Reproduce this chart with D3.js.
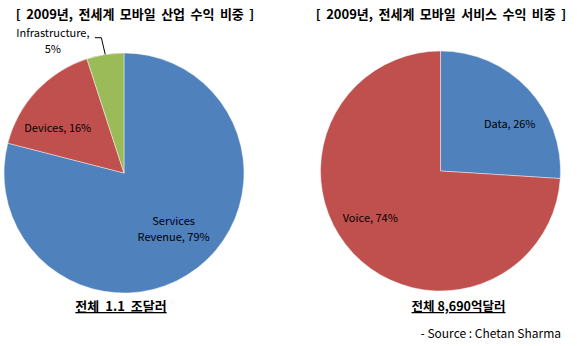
<!DOCTYPE html>
<html>
<head>
<meta charset="utf-8">
<script src="https://cdn.jsdelivr.net/npm/d3@7"></script>
<style>
  html, body { margin: 0; padding: 0; background: #fff; }
  svg { display: block; }
  text { font-family: "Noto Sans CJK KR", "Noto Sans", sans-serif; fill: #000; }
</style>
</head>
<body>
<svg id="chart" width="577" height="346"></svg>
<script>
// ---- data ----
const industryCategories = ["Services\nRevenue", "Devices", "Infrastructure"];
const industryValues = [79, 16, 5];
const serviceCategories = ["Data", "Voice"];
const serviceValues = [26, 74];
const chartTitles = ["[ 2009년, 전세계 모바일 산업 수익 비중 ]", "[ 2009년, 전세계 모바일 서비스 수익 비중 ]"];
const totalLabels = ["전체 1.1 조달러", "전체 8,690억달러"];
const sourceNote = "- Source : Chetan Sharma";

// ---- styling / layout ----
const colors = ["#4F81BD", "#C0504D", "#9BBB59"];
const svg = d3.select("#chart");
const R = 120;

function drawPie(cx, cy, cats, vals, colorList, labelCfg) {
  const g = svg.append("g").attr("transform", `translate(${cx},${cy})`);
  const data = cats.map((c, i) => ({ cat: c, val: vals[i], color: colorList[i], cfg: labelCfg[i] }));
  const pie = d3.pie().sort(null).value(d => d.val).startAngle(0).endAngle(2 * Math.PI);
  const arc = d3.arc().innerRadius(0).outerRadius(R);
  const labelArc = d3.arc().innerRadius(R * 0.62).outerRadius(R * 0.62);
  const arcs = pie(data);
  g.selectAll("path.slice").data(arcs).join("path")
    .attr("class", "slice")
    .attr("d", arc)
    .attr("fill", d => d.data.color)
    .attr("stroke", "rgba(255,255,255,0.55)")
    .attr("stroke-width", 0.8);

  arcs.forEach(a => {
    const cfg = a.data.cfg;
    const [x0, y0] = labelArc.centroid(a);
    const lines = (a.data.cat + ", " + a.data.val + "%").split("\n");
    const x = x0 + cfg.dx, y = y0 + cfg.dy;
    const lineSets = cfg.lines ? cfg.lines(a.data) : lines;
    const t = g.append("text")
      .attr("text-anchor", "middle")
      .attr("font-size", 11);
    const lh = 16;
    lineSets.forEach((ln, i) => {
      t.append("tspan").attr("x", x).attr("y", y + (i - (lineSets.length - 1) / 2) * lh + 4).text(ln);
    });
    if (cfg.leader) {
      // leader line from label to outer slice edge
      const mid = (a.startAngle + a.endAngle) / 2;
      const ex = Math.sin(mid) * R, ey = -Math.cos(mid) * R;
      const lx = x + cfg.leader.fromDx, ly = y + cfg.leader.fromDy;
      g.append("path")
        .attr("d", `M${lx},${ly}H${lx + cfg.leader.hLen}L${ex},${ey}`)
        .attr("fill", "none").attr("stroke", "#000").attr("stroke-width", 1);
    }
  });
}

// left pie
drawPie(124, 173, industryCategories, industryValues, colors, [
  { dx: 4, dy: -3 },
  { dx: -12, dy: 6 },
  { dx: -59.5, dy: -58.5, leader: { fromDx: 42, fromDy: -3.3, hLen: 6.5 },
    lines: d => [d.cat + ",", d.val + "%"] }
]);
// right pie
drawPie(440.5, 171, serviceCategories, serviceValues, colors, [
  { dx: 15, dy: 4 },
  { dx: -16, dy: -4 }
]);

// titles
svg.selectAll("text.title").data(chartTitles).join("text")
  .attr("class", "title")
  .attr("x", (d, i) => [135, 441][i])
  .attr("y", 18.5)
  .attr("text-anchor", "middle")
  .attr("font-size", 13)
  .attr("font-weight", "bold")
  .attr("word-spacing", 2.5)
  .text(d => d);

// totals
svg.selectAll("text.total").data(totalLabels).join("text")
  .attr("class", "total")
  .attr("x", (d, i) => [121, 458.5][i])
  .attr("y", 311)
  .attr("text-anchor", "middle")
  .attr("font-size", (d, i) => [13, 12.5][i])
  .attr("font-weight", "bold")
  .attr("word-spacing", (d, i) => [3, 0][i])
  .attr("text-decoration", "underline")
  .text(d => d);

svg.append("text")
  .attr("x", 561).attr("y", 338)
  .attr("text-anchor", "end")
  .attr("font-size", 12)
  .text(sourceNote);
</script>
</body>
</html>
